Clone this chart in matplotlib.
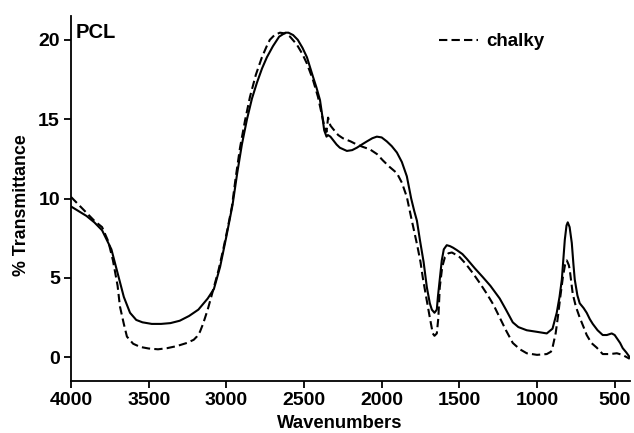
import matplotlib
matplotlib.use("Agg")
import matplotlib.pyplot as plt

plt.rcParams['font.family'] = ['Liberation Sans', 'DejaVu Sans']

# PCL (solid) spectrum
pcl_wn = [4000, 3950, 3900, 3850, 3800, 3760, 3740, 3700, 3660, 3620, 3580, 3540,
          3480, 3420, 3360, 3300, 3240, 3180, 3120, 3080, 3040, 3000, 2960, 2930,
          2900, 2867, 2835, 2803, 2770, 2739, 2700, 2660, 2620, 2600, 2570, 2540,
          2510, 2481, 2443, 2420, 2397, 2385, 2370, 2355, 2346, 2330, 2314, 2290, 2269,
          2224, 2190, 2160, 2120, 2095, 2060, 2031, 2000, 1967, 1935, 1902, 1870,
          1838, 1810, 1790, 1773, 1754, 1730, 1709, 1690, 1677, 1660, 1645, 1638,
          1625, 1613, 1600, 1581, 1560, 1540, 1516, 1480, 1452, 1400, 1349, 1300,
          1240, 1200, 1156, 1120, 1066, 1000, 937, 900, 873, 855, 840, 821, 810,
          802, 790, 776, 765, 757, 740, 725, 700, 680, 660, 641, 610, 577, 550,
          519, 500, 486, 465, 448, 425, 403]
pcl_t = [9.5, 9.2, 8.9, 8.5, 8.0, 7.2, 6.8, 5.3, 3.8, 2.8, 2.35, 2.2,
         2.1, 2.1, 2.15, 2.3, 2.6, 3.0, 3.7, 4.3, 5.7, 7.6, 9.6, 11.6,
         13.4, 15.0, 16.3, 17.3, 18.2, 18.9, 19.6, 20.2, 20.45, 20.45, 20.3, 20.0,
         19.5, 18.9, 17.7, 17.0, 16.2, 15.4, 14.3, 13.9, 14.0, 13.9, 13.7, 13.4, 13.2,
         13.0, 13.05, 13.2, 13.45, 13.6, 13.8, 13.9, 13.85, 13.6, 13.3, 12.9, 12.3,
         11.4, 10.0, 9.2, 8.6, 7.4, 6.0, 4.4, 3.4, 3.0, 2.8, 3.0, 3.8,
         5.0, 6.1, 6.8, 7.06, 7.0, 6.9, 6.75, 6.5, 6.2, 5.6, 5.05, 4.5,
         3.7, 3.0, 2.2, 1.9, 1.7, 1.6, 1.5, 1.8, 2.8, 3.8, 4.9, 7.4, 8.3,
         8.5, 8.2, 7.2, 5.8, 4.9, 3.9, 3.4, 3.1, 2.8, 2.4, 2.1, 1.7, 1.4, 1.4,
         1.5, 1.4, 1.2, 0.9, 0.57, 0.3, 0.0]

# chalky (dashed) spectrum
chalky_wn = [4000, 3950, 3900, 3850, 3800, 3760, 3730, 3700, 3685, 3660, 3640, 3600,
             3555, 3500, 3440, 3382, 3320, 3254, 3210, 3190, 3170, 3150, 3120, 3086,
             3050, 3020, 2990, 2964, 2940, 2912, 2880, 2848, 2810, 2771, 2740, 2720,
             2690, 2655, 2620, 2590, 2546, 2510, 2481, 2443, 2410, 2390, 2370, 2355,
             2345, 2330, 2314, 2280, 2250, 2200, 2160, 2120, 2076, 2030, 1992, 1950,
             1902, 1870, 1838, 1810, 1790, 1770, 1750, 1735, 1710, 1690, 1671, 1660,
             1645, 1635, 1626, 1610, 1593, 1570, 1548, 1520, 1497, 1460, 1413, 1370,
             1323, 1280, 1240, 1200, 1156, 1110, 1066, 1000, 937, 910, 898, 880, 866,
             850, 834, 820, 808, 795, 789, 770, 750, 725, 700, 680, 650, 615, 577,
             530, 486, 450, 403]
chalky_t = [10.1, 9.6, 9.1, 8.6, 8.2, 7.3, 6.1, 4.5, 3.2, 2.1, 1.3, 0.85,
            0.65, 0.55, 0.5, 0.57, 0.7, 0.9, 1.1, 1.3, 1.6, 2.1, 3.0, 4.2,
            5.5, 6.8, 8.2, 9.5, 11.3, 13.2, 14.9, 16.4, 17.8, 18.9, 19.6, 20.0,
            20.3, 20.45, 20.4, 20.2, 19.7, 19.1, 18.5, 17.5, 16.4, 15.5, 14.6, 14.2,
            15.1, 14.6, 14.4, 14.0, 13.8, 13.6, 13.4, 13.25, 13.1, 12.8, 12.4, 12.0,
            11.6, 11.0, 10.1, 8.8, 7.9, 7.0, 6.0, 5.0, 3.6, 2.5, 1.5, 1.35,
            1.5, 2.5, 4.4, 5.7, 6.3, 6.55, 6.6, 6.45, 6.3, 5.9, 5.3, 4.7,
            4.0, 3.3, 2.5, 1.7, 0.9, 0.5, 0.25, 0.15, 0.2, 0.35, 0.7, 1.5, 2.5,
            3.8, 5.0, 5.8, 6.1, 5.8, 5.5, 4.0, 3.2, 2.5, 1.9, 1.4, 0.9, 0.6, 0.2,
            0.2, 0.25, 0.15, -0.1]

x_ticks = [4000, 3500, 3000, 2500, 2000, 1500, 1000, 500]
y_ticks = [0, 5, 10, 15, 20]

fig = plt.figure(figsize=(6.34, 4.33), dpi=100)
ax = fig.add_axes([0.112, 0.120, 0.882, 0.843])

ax.plot(pcl_wn, pcl_t, color='black', lw=1.5)
ax.plot(chalky_wn, chalky_t, color='black', lw=1.5, linestyle=(0, (4, 2)), label='chalky')

ax.set_xlim(4000, 400)
ax.set_ylim(-1.5, 21.5)
ax.set_xticks(x_ticks)
ax.set_yticks(y_ticks)
for s in ['top', 'right']:
    ax.spines[s].set_visible(False)
for s in ['left', 'bottom']:
    ax.spines[s].set_linewidth(1.3)
ax.tick_params(direction='out', length=5, width=1.3, labelsize=14, pad=3)
for lbl in ax.get_xticklabels() + ax.get_yticklabels():
    lbl.set_fontweight('bold')

ax.set_xlabel('Wavenumbers', fontsize=13.3, fontweight='bold')
ax.set_ylabel('% Transmittance', fontsize=12.8, fontweight='bold')
ax.xaxis.set_label_coords(0.481, -0.093)
ax.yaxis.set_label_coords(-0.073, 0.482)

ax.text(0.009, 0.982, 'PCL', transform=ax.transAxes, fontsize=14.5, fontweight='bold',
        ha='left', va='top')

leg = ax.legend(frameon=False, loc='center left', bbox_to_anchor=(0.658, 0.929),
                borderaxespad=0, borderpad=0,
                handlelength=2.1, handletextpad=0.4,
                prop={'size': 13.5, 'weight': 'bold'})

fig.savefig('out.png', dpi=100)
